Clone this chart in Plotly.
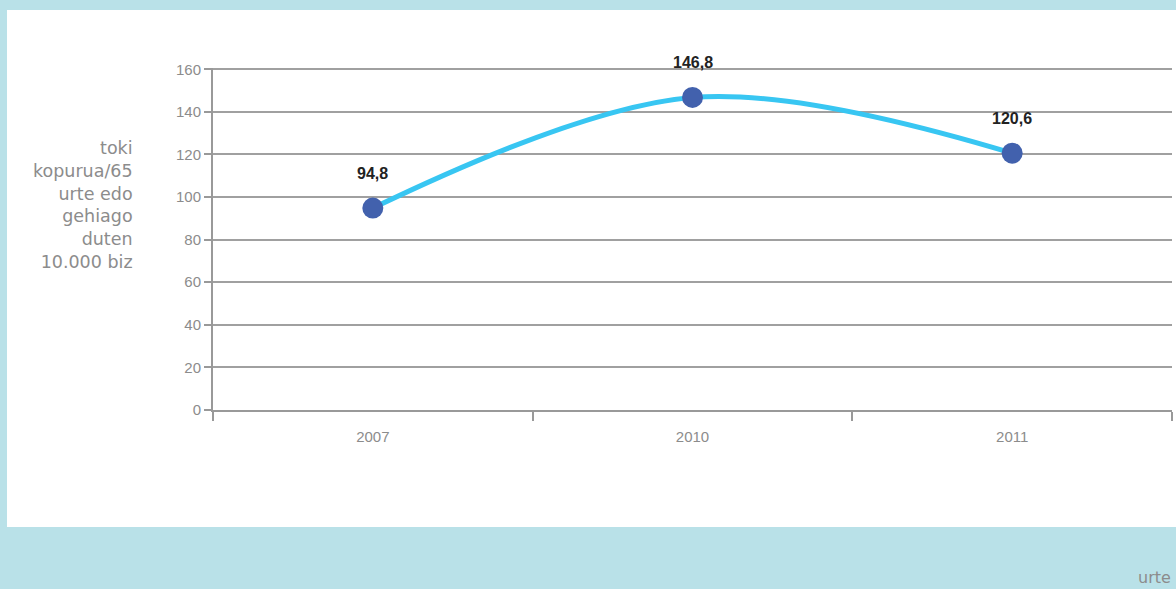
import plotly.graph_objects as go

years = ["2007", "2010", "2011"]
values = [94.8, 146.8, 120.6]
labels = ["94,8", "146,8", "120,6"]
y_title = "toki<br>kopurua/65<br>urte edo<br>gehiago<br>duten<br>10.000 biz"
x_title = "urte"

grey = "#8c8c8c"
line_blue = "#38c6f2"
dot_blue = "#4261ad"

fig = go.Figure()
fig.add_trace(go.Scatter(
    x=years, y=values, mode="lines",
    line=dict(color=line_blue, width=5, shape="spline", smoothing=1.0),
    hoverinfo="skip",
))
fig.add_trace(go.Scatter(
    x=years, y=values, mode="markers",
    marker=dict(color=dot_blue, size=21),
))

# bold value labels above the points (category index used for x)
for i, (v, lab) in enumerate(zip(values, labels)):
    fig.add_annotation(x=i, y=v, text="<b>" + lab + "</b>", showarrow=False,
                       yshift=35, font=dict(family="Liberation Sans", size=16, color="#222222"))

# white panel on the light blue background
fig.add_shape(type="rect", xref="paper", yref="paper",
              x0=-0.2148, x1=1.01, y0=-0.342, y1=1.1696,
              fillcolor="white", line_width=0, layer="below")

fig.add_annotation(xref="paper", yref="paper", x=-0.081, y=0.6,
                   xanchor="right", yanchor="middle", align="right",
                   text=y_title, showarrow=False,
                   font=dict(family="DejaVu Sans", size=17.5, color=grey))
# x axis title sits in the bottom right corner
fig.add_annotation(xref="paper", yref="paper", x=0.962, y=-0.5234,
                   xanchor="left", yanchor="bottom", text=x_title, showarrow=False,
                   font=dict(family="DejaVu Sans", size=16, color=grey))

fig.update_layout(
    width=1176, height=589,
    margin=dict(l=213, r=4, t=68, b=179),
    paper_bgcolor="#b9e1e8",
    plot_bgcolor="white",
    showlegend=False,
    font=dict(family="Liberation Sans", size=15, color=grey),
)
fig.update_xaxes(
    type="category", range=[-0.5, 2.5],
    showgrid=False, showline=True, linecolor="#999999", linewidth=2,
    ticks="outside", tickson="boundaries", ticklen=9, tickcolor="#999999", tickwidth=2,
    ticklabelstandoff=12,
    tickfont=dict(family="Liberation Sans", size=15, color=grey),
)
fig.update_yaxes(
    range=[0, 160.6], tickvals=[0, 20, 40, 60, 80, 100, 120, 140, 160],
    showgrid=True, gridcolor="#a0a0a0", gridwidth=2,
    showline=True, linecolor="#999999", linewidth=2, zeroline=False,
    ticks="outside", ticklen=7, tickcolor="#999999", tickwidth=2,
    tickfont=dict(family="Liberation Sans", size=15, color=grey),
)

fig.write_html("out.html", config={"displayModeBar": False},
               post_script="document.body.style.margin='0';")
